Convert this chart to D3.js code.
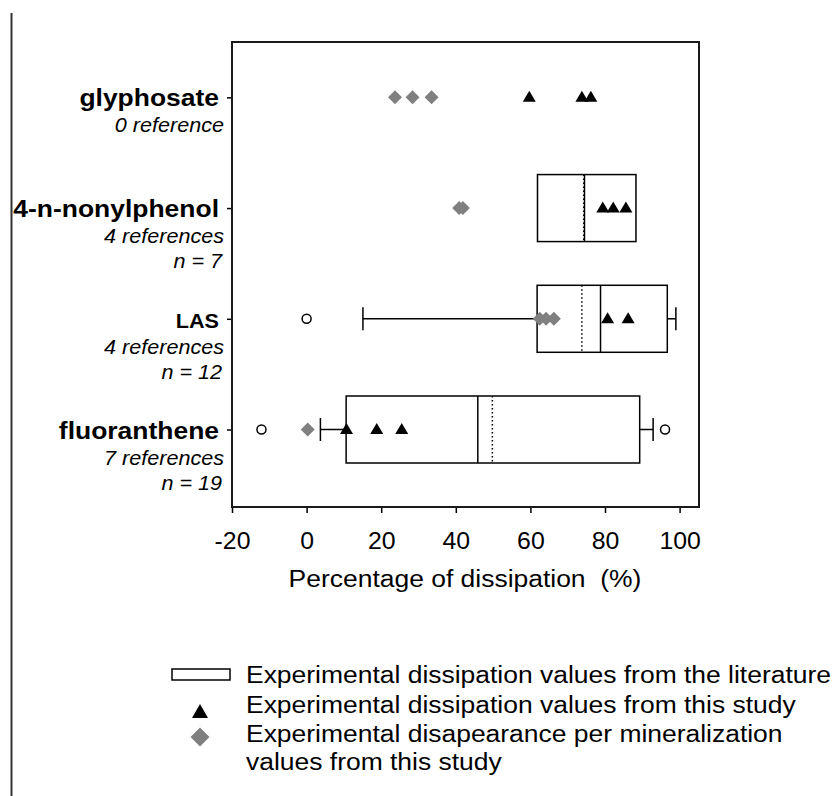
<!DOCTYPE html>
<html>
<head>
<meta charset="utf-8">
<script src="https://cdn.jsdelivr.net/npm/d3@7"></script>
<style>
  body { margin: 0; background: #fff; }
  svg text { font-family: "Liberation Sans", Arial, sans-serif; fill: #000; }
</style>
</head>
<body>
<script>
// Data
const categories = ["glyphosate", "4-n-nonylphenol", "LAS", "fluoranthene"];
const refLabels = ["0 reference", "4 references", "4 references", "7 references"];
const nLabels = ["", "n = 7", "n = 12", "n = 19"];

// literature boxes: [q1, median, q3, mean, whiskerLow, whiskerHigh]
const boxNonylphenol = [61.9, 74.5, 88.3, 74.3, null, null];
const boxLAS = [61.8, 78.8, 96.7, 73.8, 15.1, 99.0];
const boxFluoranthene = [10.6, 45.9, 89.3, 49.8, 3.7, 92.9];
const boxes = [null, boxNonylphenol, boxLAS, boxFluoranthene];

const outliersLAS = [0];
const outliersFluoranthene = [-12.1, 96.1];
const outliers = [[], [], outliersLAS, outliersFluoranthene];

// dissipation values from this study (triangles)
const studyGlyphosate = [59.7, 73.8, 76.2];
const studyNonylphenol = [79.4, 82.2, 85.6];
const studyLAS = [80.7, 86.2];
const studyFluoranthene = [10.7, 18.8, 25.5];
const study = [studyGlyphosate, studyNonylphenol, studyLAS, studyFluoranthene];

// disappearance per mineralization (grey diamonds)
const mineralGlyphosate = [23.7, 28.4, 33.5];
const mineralNonylphenol = [40.9, 41.9];
const mineralLAS = [62.5, 64.2, 66.3];
const mineralFluoranthene = [0.3];
const mineral = [mineralGlyphosate, mineralNonylphenol, mineralLAS, mineralFluoranthene];

const xTicks = [-20, 0, 20, 40, 60, 80, 100];
const xTitle = "Percentage of dissipation\u00a0\u00a0(%)";
const legendLabels = [
  "Experimental dissipation values from the literature",
  "Experimental dissipation values from this study",
  "Experimental disapearance per mineralization",
  "values from this study"
];

const w = 837;
const h = 796;
const sx = 1.08; // text in the picture is a little stretched sideways
const grey = "#808080";

const svg = d3.select("body")
  .append("svg")
  .attr("width", w)
  .attr("height", h);

// Scales
const xScale = d3.scaleLinear().domain([-20, 105.2]).range([232, 699]);
const yScale = d3.scaleLinear().domain([0.5, 4.7]).range([42, 507]);
const yPos = (i) => yScale(i + 1);

// left page rule
svg.append("line")
  .attr("x1", 11.5).attr("x2", 11.5)
  .attr("y1", 13).attr("y2", h)
  .attr("stroke", "#333").attr("stroke-width", 2);

// Axis
const xAxis = d3.axisBottom(xScale)
  .tickValues(xTicks)
  .tickSize(6)
  .tickPadding(20)
  .tickFormat((d) => String(d));

const gx = svg.append("g")
  .attr("transform", "translate(0,507)")
  .call(xAxis);
gx.select(".domain").remove();
gx.selectAll("line").attr("stroke", "#000").attr("stroke-width", 1.5);
gx.selectAll("text")
  .attr("font-size", 23)
  .attr("font-family", "Liberation Sans, Arial, sans-serif")
  .attr("transform", "scale(" + sx + ",1)");

const yAxis = d3.axisLeft(yScale)
  .tickValues([1, 2, 3, 4])
  .tickSize(5)
  .tickFormat("");

const gy = svg.append("g")
  .attr("transform", "translate(232,0)")
  .call(yAxis);
gy.select(".domain").remove();
gy.selectAll("line").attr("stroke", "#000").attr("stroke-width", 1.5);

// frame
svg.append("rect")
  .attr("x", 232).attr("y", 42)
  .attr("width", 699 - 232).attr("height", 507 - 42)
  .attr("fill", "none")
  .attr("stroke", "#1a1a1a")
  .attr("stroke-width", 2);

// stretched text helper
function label(x, y, txt, size, weight, style, anchor) {
  svg.append("text")
    .attr("transform", "translate(" + x + "," + y + ") scale(" + sx + ",1)")
    .attr("font-size", size)
    .attr("font-weight", weight)
    .attr("font-style", style)
    .attr("text-anchor", anchor)
    .text(txt);
}

// category labels
categories.forEach((c, i) => {
  const y = yPos(i);
  label(219, y + 9, c, c === "LAS" ? 20 : 24.5, "bold", "normal", "end");
  label(224, y + 35, refLabels[i], 20, "normal", "italic", "end");
  if (nLabels[i]) label(222, y + 60, nLabels[i], 20, "normal", "italic", "end");
});

// boxes
const boxHalf = 33.5;
const capHalf = 11.5;
boxes.forEach((b, i) => {
  if (!b) return;
  const y = yPos(i);
  const g = svg.append("g")
    .attr("stroke", "#000")
    .attr("stroke-width", 1.5);
  if (b[4] != null) {
    g.append("line").attr("x1", xScale(b[4])).attr("x2", xScale(b[0])).attr("y1", y).attr("y2", y);
    g.append("line").attr("x1", xScale(b[4])).attr("x2", xScale(b[4])).attr("y1", y - capHalf).attr("y2", y + capHalf);
  }
  if (b[5] != null) {
    g.append("line").attr("x1", xScale(b[2])).attr("x2", xScale(b[5])).attr("y1", y).attr("y2", y);
    g.append("line").attr("x1", xScale(b[5])).attr("x2", xScale(b[5])).attr("y1", y - capHalf).attr("y2", y + capHalf);
  }
  g.append("rect")
    .attr("x", xScale(b[0]))
    .attr("y", y - boxHalf)
    .attr("width", xScale(b[2]) - xScale(b[0]))
    .attr("height", boxHalf * 2)
    .attr("fill", "#fff");
  g.append("line")
    .attr("x1", xScale(b[1])).attr("x2", xScale(b[1]))
    .attr("y1", y - boxHalf).attr("y2", y + boxHalf);
  g.append("line")
    .attr("x1", xScale(b[3])).attr("x2", xScale(b[3]))
    .attr("y1", y - boxHalf).attr("y2", y + boxHalf)
    .attr("stroke-dasharray", "1.5,2.5");
});

// outliers
outliers.forEach((arr, i) => {
  svg.selectAll(null)
    .data(arr)
    .enter()
    .append("circle")
    .attr("cx", (d) => xScale(d))
    .attr("cy", yPos(i))
    .attr("r", 4.5)
    .attr("fill", "#fff")
    .attr("stroke", "#000")
    .attr("stroke-width", 1.5);
});

// marker shapes
const diamondPath = (r) => "M0," + (-r) + "L" + r + ",0L0," + r + "L" + (-r) + ",0Z";
const trianglePath = (hw, hh) => "M0," + (-hh) + "L" + hw + "," + hh + "L" + (-hw) + "," + hh + "Z";

mineral.forEach((arr, i) => {
  svg.selectAll(null)
    .data(arr)
    .enter()
    .append("path")
    .attr("d", diamondPath(7))
    .attr("transform", (d) => "translate(" + xScale(d) + "," + yPos(i) + ")")
    .attr("fill", grey);
});

study.forEach((arr, i) => {
  svg.selectAll(null)
    .data(arr)
    .enter()
    .append("path")
    .attr("d", trianglePath(6.5, 5.5))
    .attr("transform", (d) => "translate(" + xScale(d) + "," + (yPos(i) - 1) + ")")
    .attr("fill", "#000");
});

// x title
label(465, 587, xTitle, 24.5, "normal", "normal", "middle");

// Legend
svg.append("rect")
  .attr("x", 172).attr("y", 669)
  .attr("width", 58).attr("height", 11)
  .attr("fill", "#fff")
  .attr("stroke", "#000")
  .attr("stroke-width", 1.5);
svg.append("path")
  .attr("d", trianglePath(8, 7))
  .attr("transform", "translate(200,711)")
  .attr("fill", "#000");
svg.append("path")
  .attr("d", diamondPath(9.5))
  .attr("transform", "translate(200,737)")
  .attr("fill", grey);

const legendY = [683, 713, 742, 770];
legendLabels.forEach((t, i) => {
  label(246, legendY[i], t, 24.5, "normal", "normal", "start");
});
</script>
</body>
</html>
